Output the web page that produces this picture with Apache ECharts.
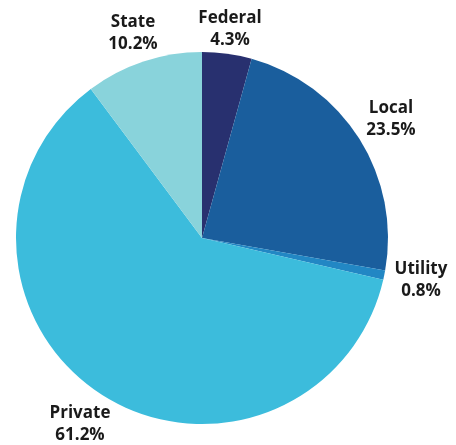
<!DOCTYPE html>
<html>
<head>
<meta charset="utf-8">
<script src="https://cdn.jsdelivr.net/npm/echarts@6/dist/echarts.min.js"></script>
<style>
  html, body { margin: 0; padding: 0; background: #fff; }
  #pieChart { width: 456px; height: 445px; }
</style>
</head>
<body>
<div id="pieChart"></div>
<script>
    // share by owner type
    const pieData = [
        {name: 'Federal', value: 4.3, color: '#28306f'},
        {name: 'Local', value: 23.5, color: '#1a5e9d'},
        {name: 'Utility', value: 0.8, color: '#2287c4'},
        {name: 'Private', value: 61.2, color: '#3cbcdc'},
        {name: 'State', value: 10.2, color: '#89d3db'}
    ]
    // where each label sits
    const labelPos = [
        [230, 29],
        [391, 119],
        [421, 280],
        [80, 424],
        [133, 33]
    ]
    const pieCharts = echarts.init(document.getElementById('pieChart'))
    pieCharts.setOption({
        animation: false,
        series: [
            {
                type: 'pie',
                center: [202, 238],
                radius: 186,
                startAngle: 90,
                clockwise: true,
                data: pieData.map(d => ({
                    name: d.name,
                    value: d.value,
                    itemStyle: {color: d.color}
                })),
                label: {
                    show: true,
                    position: 'outside',
                    alignTo: 'none',
                    overflow: 'none',
                    formatter: p => p.name + '\n' + p.value.toFixed(1) + '%',
                    fontFamily: 'Open Sans',
                    fontWeight: 'bold',
                    fontSize: 17,
                    lineHeight: 22,
                    color: '#1a1a1a',
                    align: 'center'
                },
                labelLine: {show: false},
                labelLayout: function (params) {
                    const p = labelPos[params.dataIndex]
                    return {
                        x: p[0],
                        y: p[1],
                        align: 'center',
                        verticalAlign: 'middle'
                    }
                }
            }
        ]
    })
    window.addEventListener('resize', () => pieCharts.resize())
</script>
</body>
</html>
